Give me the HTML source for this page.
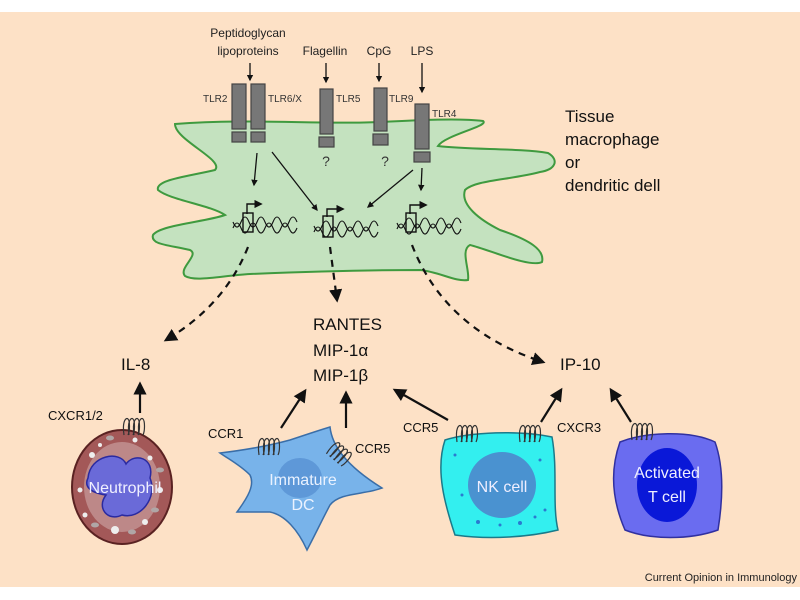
<!DOCTYPE html>
<html><head><meta charset="utf-8"><style>
html,body{margin:0;padding:0;background:#fff}
svg{display:block}
text{font-family:"Liberation Sans",Arial,sans-serif}
</style></head><body>
<svg width="800" height="600" viewBox="0 0 800 600" xmlns="http://www.w3.org/2000/svg">
<defs>
<marker id="ah" viewBox="0 0 10 10" refX="8" refY="5" markerWidth="5" markerHeight="5" orient="auto"><path d="M0,0 L10,5 L0,10 z" fill="#111"/></marker>
<marker id="as" viewBox="0 0 10 10" refX="8" refY="5" markerWidth="6" markerHeight="6" orient="auto"><path d="M0,0 L10,5 L0,10 z" fill="#111"/></marker>
<g id="coil"><g fill="none" stroke="#333" stroke-width="1.2">
<path d="M0,18 C-2,4 2,0 4,2 C6,4 6,14 4,18"/>
<path d="M5,18 C3,4 7,0 9,2 C11,4 11,14 9,18"/>
<path d="M10,18 C8,4 12,0 14,2 C16,4 16,14 14,18"/>
<path d="M15,18 C13,4 17,0 19,2 C21,4 21,14 19,18"/>
</g></g>
</defs>
<rect x="0" y="12" width="800" height="575" fill="#fde1c6"/>
<!-- macrophage -->
<path d="M175,124 C250,118 320,125 380,122 C420,120 460,118 483,121 C490,126 445,135 438,146 C470,150 520,148 548,153 C560,160 555,170 540,172 C510,180 475,180 465,190 C460,205 480,220 500,230 C530,240 545,250 542,262 C530,268 490,250 470,245 C460,250 470,270 468,280 C455,282 440,272 420,270 C370,270 300,272 250,274 C220,276 195,282 185,276 C178,268 200,255 190,250 C170,245 150,245 153,235 C160,225 205,222 225,215 C210,205 170,200 158,190 C155,180 185,177 215,170 C225,160 175,140 175,124Z" fill="#c4e2bf" stroke="#3f9a3f" stroke-width="2"/>
<!-- top labels -->
<g font-size="12" fill="#222" text-anchor="middle">
<text x="248" y="37">Peptidoglycan</text>
<text x="248" y="55">lipoproteins</text>
<text x="325" y="55">Flagellin</text>
<text x="379" y="55">CpG</text>
<text x="422" y="55">LPS</text>
</g>
<g stroke="#111" stroke-width="1.3" fill="none" marker-end="url(#ah)">
<line x1="250" y1="63" x2="250" y2="80"/>
<line x1="326" y1="63" x2="326" y2="82"/>
<line x1="379" y1="63" x2="379" y2="81"/>
<line x1="422" y1="63" x2="422" y2="92"/>
</g>
<!-- TLRs -->
<g fill="#777" stroke="#444" stroke-width="1.2">
<rect x="232" y="84" width="14" height="45"/><rect x="232" y="132" width="14" height="10"/>
<rect x="251" y="84" width="14" height="45"/><rect x="251" y="132" width="14" height="10"/>
<rect x="320" y="89" width="13" height="45"/><rect x="319" y="137" width="15" height="10"/>
<rect x="374" y="88" width="13" height="43"/><rect x="373" y="134" width="15" height="11"/>
<rect x="415" y="104" width="14" height="45"/><rect x="414" y="152" width="16" height="10"/>
</g>
<g font-size="10" fill="#333">
<text x="203" y="102">TLR2</text>
<text x="268" y="102">TLR6/X</text>
<text x="336" y="102">TLR5</text>
<text x="389" y="102">TLR9</text>
<text x="432" y="117">TLR4</text>
</g>
<g font-size="14" fill="#333" text-anchor="middle"><text x="326" y="166">?</text><text x="385" y="166">?</text></g>
<g font-size="17" fill="#111"><text x="565" y="122">Tissue</text><text x="565" y="145">macrophage</text><text x="565" y="168">or</text><text x="565" y="191">dendritic dell</text></g>
<!-- signaling arrows -->
<g stroke="#111" stroke-width="1.3" fill="none" marker-end="url(#ah)">
<line x1="257" y1="153" x2="254" y2="185"/>
<line x1="272" y1="152" x2="317" y2="210"/>
<line x1="413" y1="170" x2="368" y2="207"/>
<line x1="422" y1="168" x2="421" y2="190"/>
</g>
<!-- genes -->
<g stroke="#111" stroke-width="1.1" fill="none">
<g transform="translate(233,202)">
<path d="M14,12 v-10 h14" marker-end="url(#as)" stroke-width="1.4"/><rect x="10" y="11" width="10" height="19" stroke-width="1.4"/>
<path d="M0,26 q4,-10 8,0 t8,0 t8,0 t8,0 t8,0 t8,0 t8,0 t8,0"/><path d="M0,20 q4,10 8,0 t8,0 t8,0 t8,0 t8,0 t8,0 t8,0 t8,0"/>
</g>
<g transform="translate(314,207)">
<path d="M13,10 v-8 h16" marker-end="url(#as)" stroke-width="1.4"/><rect x="9" y="9" width="10" height="21" stroke-width="1.4"/>
<path d="M0,25 q4,-10 8,0 t8,0 t8,0 t8,0 t8,0 t8,0 t8,0 t8,0"/><path d="M0,19 q4,10 8,0 t8,0 t8,0 t8,0 t8,0 t8,0 t8,0 t8,0"/>
</g>
<g transform="translate(397,203)">
<path d="M13,11 v-9 h16" marker-end="url(#as)" stroke-width="1.4"/><rect x="9" y="10" width="10" height="19" stroke-width="1.4"/>
<path d="M0,26 q4,-10 8,0 t8,0 t8,0 t8,0 t8,0 t8,0 t8,0 t8,0"/><path d="M0,20 q4,10 8,0 t8,0 t8,0 t8,0 t8,0 t8,0 t8,0 t8,0"/>
</g>
</g>
<!-- dashed arrows -->
<g stroke="#111" stroke-width="2.2" fill="none" stroke-dasharray="7,6" marker-end="url(#as)">
<path d="M248,247 Q225,305 166,340"/>
<path d="M330,247 L337,300"/>
<path d="M412,245 Q445,330 543,362"/>
</g>
<!-- chemokines -->
<g font-size="17" fill="#111">
<text x="313" y="330">RANTES</text><text x="313" y="356">MIP-1α</text><text x="313" y="381">MIP-1β</text>
<text x="121" y="370">IL-8</text><text x="560" y="370">IP-10</text>
</g>
<g stroke="#111" stroke-width="2.2" fill="none" marker-end="url(#as)">
<line x1="140" y1="413" x2="140" y2="384"/>
<line x1="281" y1="428" x2="305" y2="391"/>
<line x1="346" y1="428" x2="346" y2="393"/>
<line x1="448" y1="420" x2="395" y2="390"/>
<line x1="541" y1="422" x2="561" y2="390"/>
<line x1="631" y1="422" x2="611" y2="390"/>
</g>
<g font-size="13" fill="#111">
<text x="48" y="420">CXCR1/2</text><text x="208" y="438">CCR1</text><text x="355" y="453">CCR5</text>
<text x="403" y="432">CCR5</text><text x="557" y="432">CXCR3</text>
</g>
<!-- neutrophil -->
<ellipse cx="122" cy="487" rx="50" ry="57" fill="#a35858" stroke="#5a2222" stroke-width="2"/>
<ellipse cx="122" cy="487" rx="38" ry="45" fill="#cfa9a9" opacity="0.6"/>
<g fill="#eee">
<circle cx="92" cy="455" r="3"/><circle cx="150" cy="458" r="2.5"/><circle cx="160" cy="490" r="3"/><circle cx="85" cy="515" r="2.5"/><circle cx="115" cy="530" r="4"/><circle cx="145" cy="522" r="3"/><circle cx="100" cy="445" r="2"/><circle cx="135" cy="440" r="2.5"/><circle cx="80" cy="490" r="2.5"/>
</g>
<g fill="#b0a6a6"><ellipse cx="110" cy="438" rx="4" ry="2.5"/><ellipse cx="160" cy="470" rx="4" ry="2.5"/><ellipse cx="95" cy="525" rx="4" ry="2.5"/><ellipse cx="155" cy="510" rx="4" ry="2.5"/><ellipse cx="132" cy="532" rx="4" ry="2.5"/></g>
<path d="M88,478 C90,455 120,450 126,464 C135,452 155,458 150,478 C158,498 140,520 122,515 C108,522 96,508 106,495 C86,492 85,484 88,478Z" fill="#6a6ad8" stroke="#2a2aa0" stroke-width="1.5"/>
<text x="125" y="493" font-size="16" fill="#f0f0ff" text-anchor="middle">Neutrophil</text>
<!-- DC -->
<path d="M220,453 C245,450 268,446 290,440 C305,435 320,430 330,427 C332,445 345,465 382,488 C365,495 340,492 330,505 C322,520 315,535 307,550 C298,530 285,515 270,512 C258,512 248,512 237,512 C248,497 255,485 250,475 C240,465 230,460 220,453Z" fill="#78b3ea" stroke="#3a6ea8" stroke-width="1.5"/>
<ellipse cx="300" cy="478" rx="22" ry="20" fill="#5e98d8"/>
<text x="303" y="485" font-size="16" fill="#eaf2ff" text-anchor="middle">Immature</text>
<text x="303" y="510" font-size="16" fill="#eaf2ff" text-anchor="middle">DC</text>
<!-- NK -->
<path d="M445,440 C470,432 520,430 552,437 C558,470 552,505 558,530 C530,537 490,540 455,535 C445,505 435,470 445,440Z" fill="#33efef" stroke="#1a7a8a" stroke-width="1.5"/>
<g fill="#2a7ad0"><circle cx="455" cy="455" r="1.5"/><circle cx="462" cy="495" r="1.5"/><circle cx="540" cy="460" r="1.5"/><circle cx="545" cy="510" r="1.5"/><circle cx="478" cy="522" r="2"/><circle cx="500" cy="525" r="1.5"/><circle cx="520" cy="523" r="2"/><circle cx="535" cy="517" r="1.5"/></g>
<ellipse cx="502" cy="485" rx="34" ry="33" fill="#4a92d0"/>
<text x="502" y="492" font-size="16" fill="#eef" text-anchor="middle">NK cell</text>
<!-- T cell -->
<path d="M620,442 C645,432 690,430 715,442 C725,470 722,505 718,530 C690,540 650,540 625,530 C612,500 610,470 620,442Z" fill="#6a6cf0" stroke="#3030a0" stroke-width="1.5"/>
<ellipse cx="667" cy="485" rx="30" ry="37" fill="#0a18d8"/>
<text x="667" y="478" font-size="16" fill="#eef" text-anchor="middle">Activated</text>
<text x="667" y="502" font-size="16" fill="#eef" text-anchor="middle">T cell</text>
<!-- receptors -->
<use href="#coil" x="124" y="417"/>
<use href="#coil" x="259" y="437"/>
<use href="#coil" transform="translate(338,440) rotate(40)"/>
<use href="#coil" x="457" y="424"/>
<use href="#coil" x="520" y="424"/>
<use href="#coil" x="632" y="422"/>
<text x="797" y="581" font-size="11" fill="#222" text-anchor="end">Current Opinion in Immunology</text>
</svg>
</body></html>
